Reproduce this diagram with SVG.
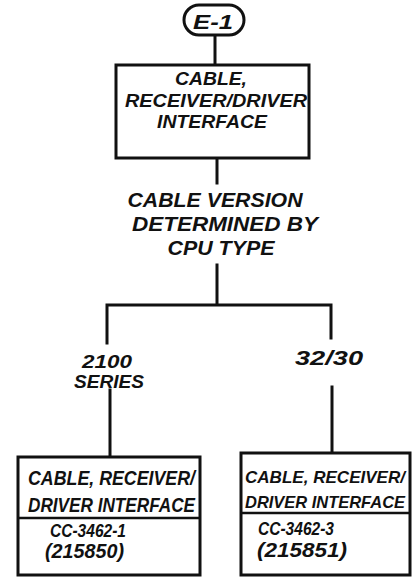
<svg xmlns="http://www.w3.org/2000/svg" width="412" height="577" viewBox="0 0 412 577">
<style>
.t{font-family:"Liberation Sans",Arial,sans-serif;font-style:italic;font-weight:bold;fill:#111;}
.b{fill:#fff;stroke:#111;stroke-width:3;}
.d{stroke:#111;stroke-width:2.5;}
.c{fill:none;stroke:#111;stroke-width:3;stroke-linecap:square;}
</style>
<rect width="412" height="577" fill="#fff"/>
<g id="connectors">
<path class="c" d="M215 35V65"/>
<path class="c" d="M217 158V183"/>
<path class="c" d="M217 265V305M107 343V305H331V338"/>
<path class="c" d="M110 390V457"/>
<path class="c" d="M332 387V453"/>
</g>
<g id="e1">
<rect class="b" x="184" y="5" width="60" height="30" rx="15"/>
<text class="t" x="213" y="29" font-size="21" text-anchor="middle" textLength="40" lengthAdjust="spacingAndGlyphs">E-1</text>
</g>
<g id="top-box">
<rect class="b" x="116" y="65" width="193" height="93"/>
<text class="t" x="211" y="85" font-size="18" text-anchor="middle" textLength="72" lengthAdjust="spacingAndGlyphs">CABLE,</text>
<text class="t" x="216" y="107" font-size="18" text-anchor="middle" textLength="182" lengthAdjust="spacingAndGlyphs">RECEIVER/DRIVER</text>
<text class="t" x="212" y="128" font-size="18" text-anchor="middle" textLength="110" lengthAdjust="spacingAndGlyphs">INTERFACE</text>
</g>
<g id="decision">
<text class="t" x="215" y="207" font-size="21" text-anchor="middle" textLength="175" lengthAdjust="spacingAndGlyphs">CABLE VERSION</text>
<text class="t" x="225" y="231" font-size="21" text-anchor="middle" textLength="186" lengthAdjust="spacingAndGlyphs">DETERMINED BY</text>
<text class="t" x="221" y="255" font-size="21" text-anchor="middle" textLength="107" lengthAdjust="spacingAndGlyphs">CPU TYPE</text>
</g>
<g id="label-2100">
<text class="t" x="107" y="368" font-size="19" text-anchor="middle" textLength="50" lengthAdjust="spacingAndGlyphs">2100</text>
<text class="t" x="109" y="388" font-size="19" text-anchor="middle" textLength="70" lengthAdjust="spacingAndGlyphs">SERIES</text>
</g>
<g id="label-3230">
<text class="t" x="329" y="365" font-size="21" text-anchor="middle" textLength="68" lengthAdjust="spacingAndGlyphs">32/30</text>
</g>
<g id="left-box">
<rect class="b" x="18" y="457" width="182" height="118"/>
<line class="d" x1="18" y1="518" x2="200" y2="518"/>
<text class="t" x="28" y="485" font-size="20" textLength="167" lengthAdjust="spacingAndGlyphs">CABLE, RECEIVER/</text>
<text class="t" x="28" y="512" font-size="20" textLength="167" lengthAdjust="spacingAndGlyphs">DRIVER INTERFACE</text>
<text class="t" x="50" y="537" font-size="19" textLength="76" lengthAdjust="spacingAndGlyphs">CC-3462-1</text>
<text class="t" x="45" y="558" font-size="21" textLength="79" lengthAdjust="spacingAndGlyphs">(215850)</text>
</g>
<g id="right-box">
<rect class="b" x="241" y="453" width="169" height="122"/>
<line class="d" x1="241" y1="513" x2="410" y2="513"/>
<text class="t" x="245" y="483" font-size="17" textLength="160" lengthAdjust="spacingAndGlyphs">CABLE, RECEIVER/</text>
<text class="t" x="245" y="508" font-size="17" textLength="160" lengthAdjust="spacingAndGlyphs">DRIVER INTERFACE</text>
<text class="t" x="258" y="535" font-size="19" textLength="76" lengthAdjust="spacingAndGlyphs">CC-3462-3</text>
<text class="t" x="257" y="557" font-size="21" textLength="90" lengthAdjust="spacingAndGlyphs">(215851)</text>
</g>
</svg>
